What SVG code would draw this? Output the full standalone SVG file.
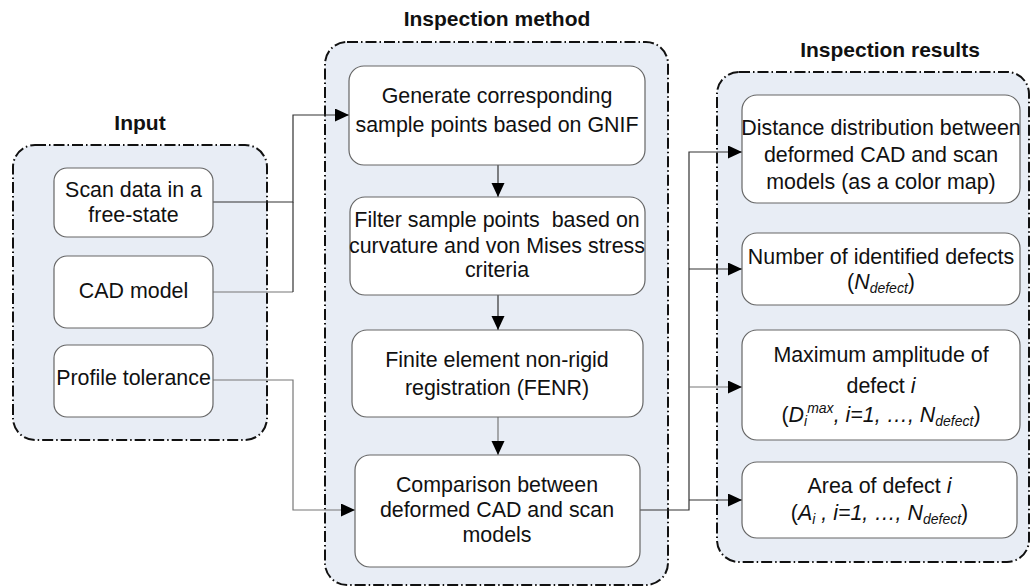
<svg xmlns="http://www.w3.org/2000/svg" width="1031" height="587" viewBox="0 0 1031 587">
<style>
.grp{fill:#e8edf5;stroke:#111;stroke-width:2;stroke-dasharray:11 3 1.5 3}
.box{fill:#fff;stroke:#666;stroke-width:1.2}
.t{font-family:"Liberation Sans",Arial,sans-serif;font-size:21.4px;fill:#111;text-anchor:middle}
.h{font-family:"Liberation Sans",Arial,sans-serif;font-size:21px;font-weight:bold;fill:#111;text-anchor:middle}
.i{font-style:italic}
.s{font-size:14px;font-style:italic}
.c{fill:none;stroke:#333;stroke-width:1.2}
.cg{fill:none;stroke:#777;stroke-width:1.2}
</style>
<defs>
<marker id="arr" markerUnits="userSpaceOnUse" markerWidth="16" markerHeight="14" refX="14" refY="6.5" orient="auto">
<path d="M0,0 L14,6.5 L0,13 Z" fill="#000"/>
</marker>
</defs>

<g id="group-input">
<rect class="grp" x="13" y="145" width="254" height="295" rx="22"/>
<text class="h" x="140" y="130">Input</text>
</g>
<g id="group-method">
<rect class="grp" x="325" y="42" width="343" height="543" rx="22"/>
<text class="h" x="497" y="26">Inspection method</text>
</g>
<g id="group-results">
<rect class="grp" x="717" y="72" width="312" height="490" rx="22"/>
<text class="h" x="890" y="57">Inspection results</text>
</g>

<g id="connectors">
<path class="c" d="M213,202 H293 V115 H349" marker-end="url(#arr)"/>
<path class="cg" d="M213,292 H293"/>
<path class="c" d="M293,292 V202"/>
<path class="cg" d="M213,380 H293 V510 H355" marker-end="url(#arr)"/>
<path class="c" d="M498,165 V197" marker-end="url(#arr)"/>
<path class="c" d="M498,295 V330" marker-end="url(#arr)"/>
<path class="cg" d="M498,417 V455" marker-end="url(#arr)"/>
<path class="c" d="M640,510 H689 V152 H742" marker-end="url(#arr)"/>
<path class="c" d="M689,269 H742" marker-end="url(#arr)"/>
<path class="cg" d="M689,387 H742" marker-end="url(#arr)"/>
<path class="c" d="M689,500 H742" marker-end="url(#arr)"/>
</g>

<g id="node-scan">
<rect class="box" x="54" y="168" width="159" height="69" rx="13"/>
<text class="t" x="133.5" y="197">Scan data in a</text>
<text class="t" x="133.5" y="222">free-state</text>
</g>
<g id="node-cad">
<rect class="box" x="54" y="256" width="159" height="72" rx="13"/>
<text class="t" x="133.5" y="298">CAD model</text>
</g>
<g id="node-profile">
<rect class="box" x="54" y="345" width="159" height="72" rx="13"/>
<text class="t" x="133.5" y="385">Profile tolerance</text>
</g>

<g id="node-generate">
<rect class="box" x="349" y="66" width="296" height="99" rx="15"/>
<text class="t" x="497" y="103">Generate corresponding</text>
<text class="t" x="497" y="132">sample points based on GNIF</text>
</g>
<g id="node-filter">
<rect class="box" x="350" y="197" width="295" height="98" rx="15"/>
<text class="t" x="497" y="227" xml:space="preserve">Filter sample points  based on</text>
<text class="t" x="497" y="253">curvature and von Mises stress</text>
<text class="t" x="497" y="277">criteria</text>
</g>
<g id="node-fenr">
<rect class="box" x="352" y="330" width="291" height="87" rx="15"/>
<text class="t" x="497" y="367">Finite element non-rigid</text>
<text class="t" x="497" y="395">registration (FENR)</text>
</g>
<g id="node-compare">
<rect class="box" x="355" y="455" width="285" height="112" rx="15"/>
<text class="t" x="497" y="492">Comparison between</text>
<text class="t" x="497" y="517">deformed CAD and scan</text>
<text class="t" x="497" y="542">models</text>
</g>

<g id="node-distance">
<rect class="box" x="742" y="95" width="278" height="108" rx="15"/>
<text class="t" x="881" y="135">Distance distribution between</text>
<text class="t" x="881" y="162">deformed CAD and scan</text>
<text class="t" x="881" y="189">models (as a color map)</text>
</g>
<g id="node-number">
<rect class="box" x="742" y="233" width="278" height="72" rx="15"/>
<text class="t" x="881" y="264">Number of identified defects</text>
<text class="t" x="881" y="289">(<tspan class="i">N</tspan><tspan class="s" dy="4">defect</tspan><tspan dy="-4">)</tspan></text>
</g>
<g id="node-maximum">
<rect class="box" x="742" y="330" width="278" height="110" rx="15"/>
<text class="t" x="881" y="362">Maximum amplitude of</text>
<text class="t" x="881" y="393">defect <tspan class="i">i</tspan></text>
<text class="t" x="881" y="422">(<tspan class="i">D</tspan><tspan class="s" dy="4">i</tspan><tspan class="s" dy="-13">max</tspan><tspan class="i" dy="9">, i=1,  …, N</tspan><tspan class="s" dy="4">defect</tspan><tspan dy="-4">)</tspan></text>
</g>
<g id="node-area">
<rect class="box" x="742" y="462" width="275" height="76" rx="15"/>
<text class="t" x="879.5" y="493">Area of defect <tspan class="i">i</tspan></text>
<text class="t" x="879.5" y="520">(<tspan class="i">A</tspan><tspan class="s" dy="4">i</tspan><tspan class="i" dy="-4"> , i=1,  …, N</tspan><tspan class="s" dy="4">defect</tspan><tspan dy="-4">)</tspan></text>
</g>
</svg>
